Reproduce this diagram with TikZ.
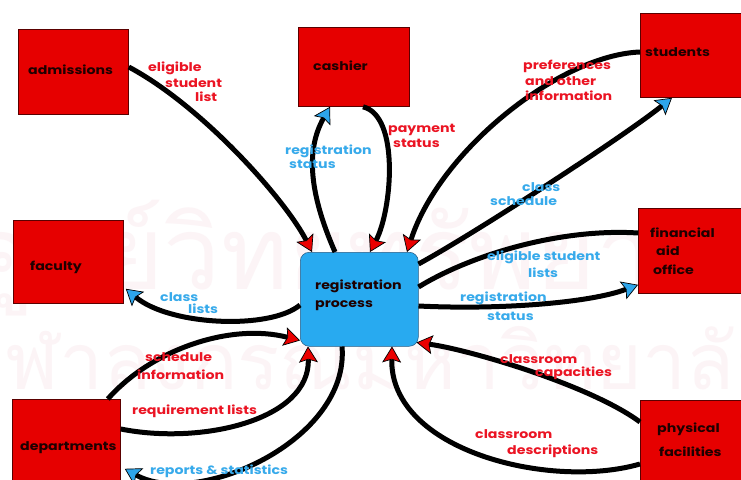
\documentclass[tikz,border=0pt]{standalone}
\usepackage{fontspec}
\usepackage{graphicx}
\setmainfont{Poppins}[FakeStretch=1.18]
\newfontfamily\thaifont[Script=Thai]{Loma}
\usetikzlibrary{arrows.meta,calc}
\definecolor{boxred}{RGB}{230,0,0}
\definecolor{procblue}{RGB}{40,170,240}
\definecolor{txtred}{RGB}{235,20,35}
\definecolor{txtblue}{RGB}{55,170,235}
\definecolor{arrred}{RGB}{235,0,0}
\definecolor{arrblue}{RGB}{45,165,235}
\definecolor{wmark}{RGB}{252,244,246}
\definecolor{boxtxt}{RGB}{30,0,0}
\tikzset{
  ent/.style={draw={rgb,255:red,90;green,0;blue,0}, line width=0.8pt, fill=boxred, anchor=north west, inner sep=0pt},
  proc/.style={draw={rgb,255:red,40;green,90;blue,130}, line width=0.5pt, fill=procblue, rounded corners=9pt, anchor=north west, inner sep=0pt},
  btxt/.style={anchor=base west, inner sep=0pt, text=boxtxt, font=\bfseries\fontsize{12}{14}\selectfont},
  rtxt/.style={anchor=base west, inner sep=0pt, text=txtred, font=\bfseries\fontsize{12}{14}\selectfont},
  ltxt/.style={anchor=base west, inner sep=0pt, text=txtblue, font=\bfseries\fontsize{12}{14}\selectfont},
  flow/.style={draw=black, line width=5pt},
  tored/.style={flow, -{Stealth[length=16pt,width=19pt,inset=3pt,fill=arrred,line width=0.7pt]}},
  toblue/.style={flow, -{Stealth[length=16pt,width=19pt,inset=3pt,fill=arrblue,line width=0.7pt]}},
}
\begin{document}
\begin{tikzpicture}[x=1pt,y=-1pt]
\useasboundingbox (0,0) rectangle (741,479);
\clip (0,0) rectangle (741,479);
\fill[white] (0,0) rectangle (741,479);
% watermark
\node[inner sep=0pt, text=wmark] (wm1) at (370,258) {\resizebox{800pt}{!}{\thaifont ศูนย์วิทยทรัพยากร}};
\node[inner sep=0pt, text=wmark] (wm2) at (370,365) {\resizebox{820pt}{!}{\thaifont จุฬาลงกรณ์มหาวิทยาลัย}};
% entities
\node[ent, minimum width=110pt, minimum height=85pt] (adm) at (18,29) {};
\node[ent, minimum width=111pt, minimum height=79pt] (cash) at (298,27) {};
\node[ent, minimum width=110pt, minimum height=84pt] (stud) at (640,13) {};
\node[ent, minimum width=110pt, minimum height=83pt] (fac) at (13,220) {};
\node[ent, minimum width=110pt, minimum height=85pt] (fin) at (638,208) {};
\node[ent, minimum width=108pt, minimum height=86pt] (dept) at (12,399) {};
\node[ent, minimum width=110pt, minimum height=86pt] (phys) at (640,400) {};
\node[proc, minimum width=118pt, minimum height=94pt] (pr) at (300,252) {};
% entity texts
\node[btxt] (admT) at (28,74) {admissions};
\node[btxt] (cashT) at (313,70) {cashier};
\node[btxt] (studT) at (645,56) {students};
\node[btxt] (facT) at (30,270) {faculty};
\node[btxt] (finT1) at (650,237) {financial};
\node[btxt] (finT2) at (656,255) {aid};
\node[btxt] (finT3) at (653,274) {office};
\node[btxt] (deptT) at (20,450) {departments};
\node[btxt] (physT1) at (657,432) {physical};
\node[btxt] (physT2) at (659,456) {facilities};
\node[btxt] (prT1) at (315,289) {registration};
\node[btxt] (prT2) at (315,307) {process};
% flows
\draw[tored] ($(adm.north east)+(0,38)$) .. controls +(75,40) and +(-25,-50) .. ($(pr.north west)+(12,0)$);
\draw[toblue] ($(pr.north west)+(35,0)$) .. controls +(-25,-57) and +(-25,44) .. ($(cash.south west)+(32,0)$);
\draw[tored] ($(cash.south west)+(65,0)$) .. controls +(37,9) and +(22,-42) .. ($(pr.north west)+(70,0)$);
\draw[tored] ($(stud.north west)+(0,39)$) .. controls +(-80,3) and +(33,-102) .. ($(pr.north west)+(107,0)$);
\draw[toblue] ($(pr.north east)+(0,12)$) .. controls +(55,-30) and +(-50,40) .. ($(stud.south west)+(32,0)$);
\draw[flow] ($(fin.north west)+(0,25)$) .. controls +(-78,-5) and +(52,-32) .. ($(pr.north east)+(0,35)$);
\draw[toblue] ($(pr.north east)+(0,54)$) .. controls +(82,4) and +(-48,18) .. ($(fin.south west)+(0,-9)$);
\draw[tored] ($(phys.north west)+(0,22)$) .. controls +(-50,-37) and +(52,7) .. ($(pr.south east)+(-2,-4)$);
\draw[tored] ($(phys.north west)+(0,64)$) .. controls +(-90,26) and +(-2,104) .. ($(pr.south west)+(92,0)$);
\draw[toblue] ($(pr.north west)+(0,53)$) .. controls +(-30,25) and +(44,37) .. ($(fac.south east)+(2,-15)$);
\draw[tored] ($(dept.north east)+(-13,0)$) .. controls +(43,-49) and +(-70,-18) .. ($(pr.south west)+(0,-6)$);
\draw[tored] ($(dept.north east)+(0,30)$) .. controls +(80,16) and +(2,74) .. ($(pr.south west)+(8,0)$);
\draw[toblue] ($(pr.south west)+(42,0)$) .. controls +(8,94) and +(72,40) .. ($(dept.south east)+(4,-17)$);
% flow labels
\node[rtxt] (l1a) at (148,71) {eligible};
\node[rtxt] (l1b) at (165,87) {student};
\node[rtxt] (l1c) at (195,101) {list};
\node[ltxt] (l2a) at (285,154) {registration};
\node[ltxt] (l2b) at (289,168) {status};
\node[rtxt] (l3a) at (388,132) {payment};
\node[rtxt] (l3b) at (393,147) {status};
\node[rtxt] (l4a) at (523,69) {preferences};
\node[rtxt] (l4b) at (525,85) {and other};
\node[rtxt] (l4c) at (525,100) {information};
\node[ltxt] (l5a) at (522,191) {class};
\node[ltxt] (l5b) at (490,205) {schedule};
\node[ltxt] (l6a) at (487,260) {eligible student};
\node[ltxt] (l6b) at (528,277) {lists};
\node[ltxt] (l7a) at (460,301) {registration};
\node[ltxt] (l7b) at (487,320) {status};
\node[ltxt] (l10a) at (160,301) {class};
\node[ltxt] (l10b) at (188,313) {lists};
\node[rtxt] (l11a) at (145,361) {schedule};
\node[rtxt] (l11b) at (137,379) {information};
\node[rtxt] (l12) at (132,414) {requirement lists};
\node[ltxt] (l13) at (150,474) {reports \& statistics};
\node[rtxt] (l8a) at (500,363) {classroom};
\node[rtxt] (l8b) at (535,376) {capacities};
\node[rtxt] (l9a) at (475,438) {classroom};
\node[rtxt] (l9b) at (507,454) {descriptions};
\end{tikzpicture}
\end{document}
